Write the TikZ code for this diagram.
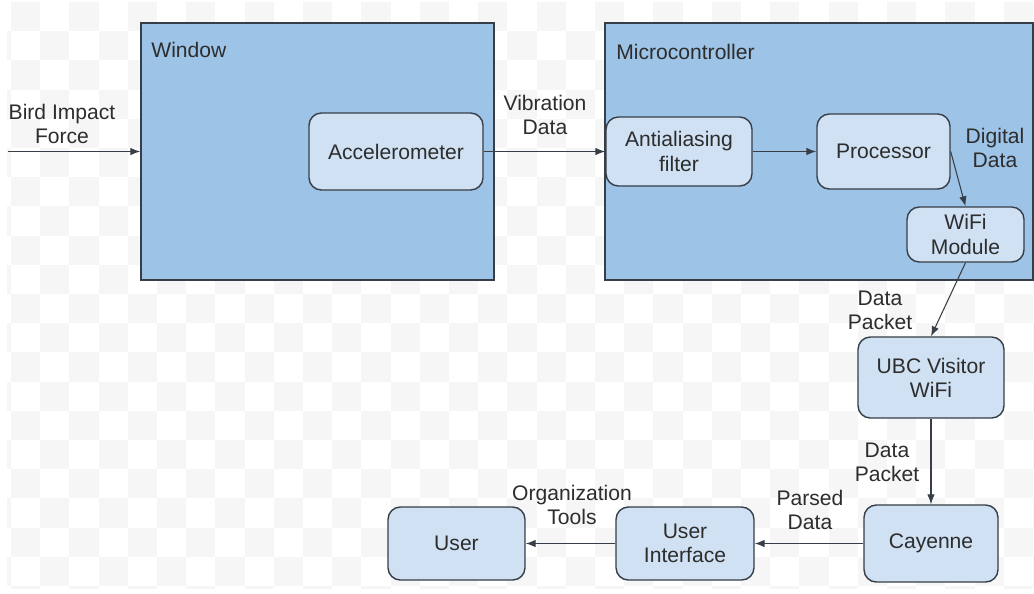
\documentclass[tikz,border=0pt]{standalone}
\usepackage{fontspec}
\setmainfont{Liberation Sans}
\usetikzlibrary{arrows.meta}

\definecolor{bigblue}{RGB}{157,195,230}
\definecolor{smallblue}{RGB}{207,225,243}
\definecolor{edgegray}{RGB}{55,62,72}
\definecolor{txtgray}{RGB}{45,45,45}
\definecolor{checker}{RGB}{246,246,246}

\tikzset{
  block/.style={draw=edgegray, fill=smallblue, rounded corners=7pt, line width=0.8pt,
    align=center, text=txtgray, inner sep=0pt, font=\fontsize{12}{13.8}\selectfont},
  group/.style={draw=edgegray, fill=bigblue, line width=0.8pt, inner sep=0pt},
  lbl/.style={align=center, text=txtgray, inner sep=0pt, font=\fontsize{12}{13.8}\selectfont},
  flow/.style={->, draw=edgegray, line width=0.6pt},
}

\begin{document}
\begin{tikzpicture}[x={(0.02cm,0)}, y={(0,-0.02cm)}, >={Latex[length=2mm,width=1.5mm]}]
  \useasboundingbox (0,0) rectangle (1034,593);
  \fill[white] (0,0) rectangle (1034,593);

  % faint checkerboard behind the diagram
  \begin{scope}
    \clip (7,2) rectangle (1034,588);
    \foreach \i in {-1,...,35} {
      \foreach \j in {0,...,20} {
        \pgfmathtruncatemacro\k{mod(\i+\j+2,2)}
        \ifnum\k=0
          \fill[checker] (11+29.2*\i,2+29.2*\j) rectangle ++(29.2,29.2);
        \fi
      }
    }
  \end{scope}

  % groups
  \node[group, minimum width=7.06cm, minimum height=5.14cm] (window) at (317.5,151.5) {};
  \node[group, minimum width=8.56cm, minimum height=5.14cm] (micro) at (819,151.5) {};
  \node[lbl, anchor=west] (windowtitle) at (151,50) {Window};
  \node[lbl, anchor=west] (microtitle) at (616,52) {Microcontroller};

  % blocks
  \node[block, minimum width=3.48cm, minimum height=1.54cm] (acc) at (396,151.5) {Accelerometer};
  \node[block, minimum width=2.92cm, minimum height=1.38cm] (aaf) at (679,151.5) {Antialiasing\\filter};
  \node[block, minimum width=2.66cm, minimum height=1.50cm] (proc) at (883.5,151.5) {Processor};
  \node[block, minimum width=2.34cm, minimum height=1.10cm] (wifi) at (965.5,234.5) {WiFi\\Module};
  \node[block, minimum width=2.92cm, minimum height=1.62cm] (ubc) at (931,377.5) {UBC Visitor\\WiFi};
  \node[block, minimum width=2.68cm, minimum height=1.54cm] (cay) at (931,543.5) {Cayenne};
  \node[block, minimum width=2.76cm, minimum height=1.46cm] (ui) at (685,543.5) {User\\Interface};
  \node[block, minimum width=2.74cm, minimum height=1.46cm] (user) at (456.5,543.5) {User};

  % connectors
  \coordinate (birdin) at (8,151.5);
  \draw[flow] (birdin) -- (window.west);
  \draw[flow] (acc.east) -- (aaf.west);
  \draw[flow] (aaf.east) -- (proc.west);
  \draw[flow] (proc.east) -- (wifi.north);
  \draw[flow] (wifi.south) -- (ubc.north);
  \draw[flow] (ubc.south) -- (cay.north);
  \draw[flow] (cay.west) -- (ui.east);
  \draw[flow] (ui.west) -- (user.east);

  % connector labels
  \node[lbl] (birdlbl) at (62,124) {Bird Impact\\Force};
  \node[lbl] (viblbl) at (545,115) {Vibration\\Data};
  \node[lbl] (diglbl) at (995,148) {Digital\\Data};
  \node[lbl] (pkt1lbl) at (880,310) {Data\\Packet};
  \node[lbl] (pkt2lbl) at (887,462) {Data\\Packet};
  \node[lbl] (parsedlbl) at (810,510) {Parsed\\Data};
  \node[lbl] (orglbl) at (572,505) {Organization\\Tools};
\end{tikzpicture}
\end{document}
